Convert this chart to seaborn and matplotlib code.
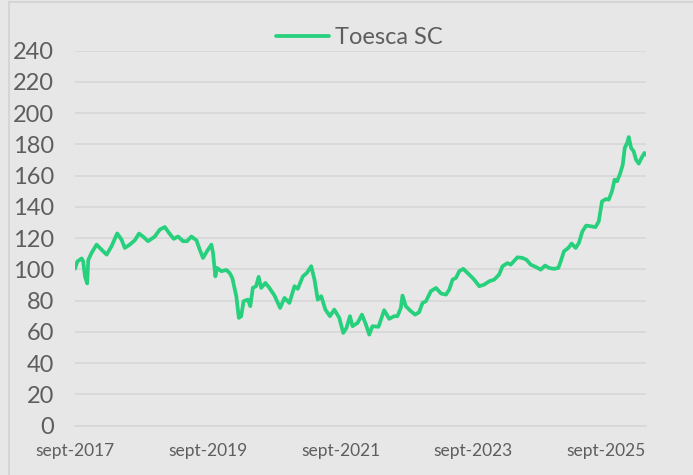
import pandas as pd
import matplotlib.pyplot as plt
import seaborn as sns
from matplotlib.lines import Line2D

# Values (index level, base 100 in sept-2017)
dates = [
    "2017-09-01", "2017-09-14", "2017-10-08", "2017-10-16", "2017-10-26", "2017-11-07",
    "2017-11-13", "2017-12-01", "2017-12-29", "2018-01-25", "2018-02-22", "2018-03-21",
    "2018-04-21", "2018-05-15", "2018-06-02", "2018-06-29", "2018-07-27", "2018-08-19",
    "2018-09-10", "2018-10-08", "2018-11-14", "2018-12-11", "2019-01-08", "2019-01-31",
    "2019-02-26", "2019-03-22", "2019-04-18", "2019-05-10", "2019-06-03", "2019-07-01",
    "2019-07-19", "2019-08-06", "2019-08-28", "2019-09-21", "2019-09-30", "2019-10-13",
    "2019-10-22", "2019-11-15", "2019-12-12", "2019-12-30", "2020-01-14", "2020-02-05",
    "2020-02-19", "2020-03-03", "2020-03-16", "2020-04-09", "2020-04-22", "2020-05-06",
    "2020-05-24", "2020-06-07", "2020-06-21", "2020-07-14", "2020-08-05", "2020-09-02",
    "2020-10-03", "2020-10-27", "2020-11-23", "2020-12-21", "2021-01-08", "2021-02-05",
    "2021-02-27", "2021-03-23", "2021-04-10", "2021-04-28", "2021-05-17", "2021-06-09",
    "2021-07-04", "2021-07-28", "2021-08-24", "2021-09-15", "2021-10-03", "2021-10-22",
    "2021-11-05", "2021-12-03", "2021-12-27", "2022-01-18", "2022-02-05", "2022-02-23",
    "2022-03-28", "2022-04-28", "2022-05-26", "2022-06-22", "2022-07-10", "2022-07-29",
    "2022-08-07", "2022-08-25", "2022-09-22", "2022-10-15", "2022-11-06", "2022-11-25",
    "2022-12-14", "2023-01-10", "2023-02-07", "2023-03-07", "2023-04-03", "2023-04-21",
    "2023-05-09", "2023-05-28", "2023-06-15", "2023-07-07", "2023-08-09", "2023-09-05",
    "2023-10-03", "2023-10-30", "2023-11-26", "2023-12-24", "2024-01-20", "2024-02-08",
    "2024-03-06", "2024-03-24", "2024-04-30", "2024-05-27", "2024-06-18", "2024-07-12",
    "2024-08-09", "2024-09-05", "2024-09-29", "2024-10-21", "2024-11-17", "2024-12-11",
    "2024-12-24", "2025-01-11", "2025-02-04", "2025-02-22", "2025-03-16", "2025-04-03",
    "2025-04-22", "2025-05-13", "2025-06-06", "2025-07-03", "2025-07-21", "2025-08-08",
    "2025-08-30", "2025-09-14", "2025-10-02", "2025-10-16", "2025-10-30", "2025-11-17",
    "2025-11-30", "2025-12-11", "2025-12-24", "2026-01-02", "2026-01-15", "2026-01-29",
    "2026-02-11", "2026-02-26", "2026-03-13", "2026-03-29", "2026-04-07",
]
values = [
    100.4, 105.0, 107.0, 105.0, 95.5, 91.0,
    106.0, 110.5, 115.8, 112.6, 109.4, 114.8,
    123.0, 119.0, 113.7, 115.8, 118.6, 122.9,
    121.0, 118.0, 121.0, 125.4, 127.1, 123.3,
    119.5, 121.0, 118.0, 118.0, 121.0, 118.6,
    112.6, 107.3, 111.6, 115.8, 110.5, 95.5,
    100.9, 98.8, 99.6, 97.7, 94.5, 82.8,
    68.9, 70.0, 79.6, 80.6, 76.4, 88.1,
    89.2, 95.2, 88.1, 91.3, 88.1, 83.2,
    75.3, 81.7, 78.5, 89.2, 87.5, 95.5,
    97.7, 102.0, 93.4, 80.6, 82.8, 74.2,
    70.0, 74.2, 69.0, 59.3, 62.5, 70.0,
    63.6, 65.7, 71.0, 64.6, 58.2, 63.6,
    63.2, 73.8, 68.3, 70.0, 70.0, 75.3,
    83.2, 76.4, 73.2, 71.0, 72.5, 78.5,
    79.6, 86.0, 88.1, 84.5, 83.8, 87.0,
    93.4, 94.5, 98.8, 100.3, 96.6, 93.4,
    89.2, 90.2, 92.3, 93.4, 96.6, 102.0,
    104.0, 103.0, 107.7, 107.3, 106.2, 103.0,
    101.5, 99.8, 102.4, 100.9, 100.3, 100.9,
    105.1, 111.6, 113.7, 116.5, 113.7, 116.9,
    124.3, 128.0, 127.6, 127.0, 130.7, 143.5,
    145.0, 144.6, 150.0, 157.4, 156.4, 161.7,
    167.0, 177.7, 180.9, 184.7, 177.7, 175.6,
    170.2, 167.7, 171.3, 174.5, 173.4,
]
series_name = "Toesca SC"
tick_dates = ["2017-09-01", "2019-09-01", "2021-09-01", "2023-09-01", "2025-09-01"]
tick_labels = ["sept-2017", "sept-2019", "sept-2021", "sept-2023", "sept-2025"]
y_ticks = list(range(0, 241, 20))

df = pd.DataFrame({"Fecha": pd.to_datetime(dates), "Valor": values})

bg = "#e7e7e7"
grid_col = "#d7d7d7"
txt_col = "#5e5e5e"
green = "#27d07c"

sns.set_theme(style="white")
plt.rcParams["font.family"] = ["Lato", "DejaVu Sans"]

fig = plt.figure(figsize=(6.93, 4.75), dpi=100, facecolor=bg)
ax = fig.add_axes([0.1082, 0.1042, 0.8240, 0.7891])
ax.set_facecolor(bg)

sns.lineplot(data=df, x="Fecha", y="Valor", color=green, linewidth=2.7, ax=ax, legend=False)

ax.set_ylim(0, 240)
ax.set_xlim(df["Fecha"].iloc[0], df["Fecha"].iloc[-1])
ax.set_yticks(y_ticks)
ax.set_yticklabels([str(v) for v in y_ticks])
ax.set_xticks(pd.to_datetime(tick_dates))
ax.set_xticklabels(tick_labels)

ax.grid(axis="y", color=grid_col, linewidth=1.2)
ax.set_axisbelow(True)
for s in ["top", "right", "left"]:
    ax.spines[s].set_visible(False)
ax.spines["bottom"].set_color(grid_col)
ax.spines["bottom"].set_linewidth(1.2)

ax.tick_params(axis="y", length=0, pad=15, labelsize=17, labelcolor=txt_col)
ax.tick_params(axis="x", length=4, width=1.2, color=grid_col, direction="out",
               pad=8.5, labelsize=12.5, labelcolor=txt_col)
ax.set_xlabel("")
ax.set_ylabel("")

handle = Line2D([], [], color=green, linewidth=2.7)
fig.legend([handle], [series_name], loc="center", bbox_to_anchor=(0.519, 0.92),
           frameon=False, fontsize=17, handlelength=2.25, handletextpad=0.25,
           labelcolor=txt_col)

# thin frame like the exported chart area
fig.add_artist(Line2D([9 / 693, 9 / 693], [0, 1 - 2 / 475], transform=fig.transFigure,
                      color="#d5d5d5", linewidth=1.5))
fig.add_artist(Line2D([9 / 693, 1], [1 - 2 / 475, 1 - 2 / 475], transform=fig.transFigure,
                      color="#d5d5d5", linewidth=1.5))

fig.savefig("out.png", dpi=100, facecolor=bg)
